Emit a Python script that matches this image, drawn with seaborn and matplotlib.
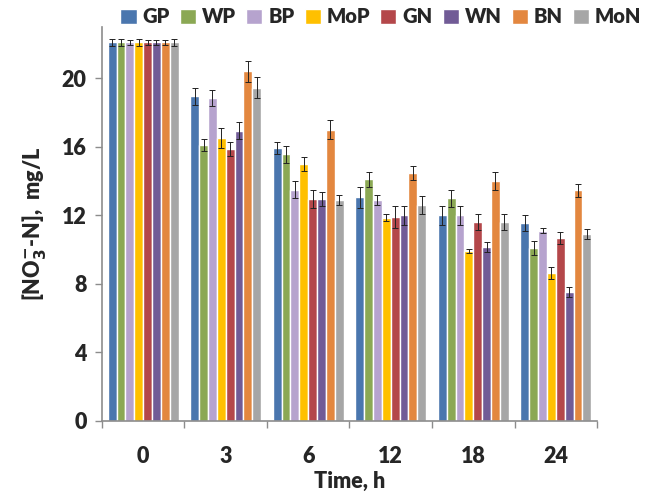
import matplotlib
matplotlib.use("Agg")
import matplotlib.pyplot as plt
import seaborn as sns
import numpy as np
import pandas as pd

times = ["0", "3", "6", "12", "18", "24"]
series = ["GP", "WP", "BP", "MoP", "GN", "WN", "BN", "MoN"]
colors = ["#4A76AE", "#8BA854", "#B6A3CE", "#FFC000", "#B4474A", "#715B96", "#E3873F", "#A6A6A6"]

GP  = [22.1, 18.95, 15.9, 13.05, 12.0, 11.55]
WP  = [22.1, 16.1, 15.55, 14.1, 13.0, 10.1]
BP  = [22.1, 18.85, 13.5, 12.9, 12.0, 11.1]
MoP = [22.1, 16.5, 15.0, 11.85, 9.9, 8.65]
GN  = [22.1, 15.85, 12.95, 11.9, 11.6, 10.7]
WN  = [22.1, 16.95, 12.95, 12.0, 10.15, 7.5]
BN  = [22.1, 20.4, 17.0, 14.45, 14.0, 13.45]
MoN = [22.1, 19.45, 12.9, 12.6, 11.6, 10.9]

GP_err  = [0.2, 0.5, 0.35, 0.6, 0.55, 0.45]
WP_err  = [0.2, 0.35, 0.5, 0.45, 0.5, 0.4]
BP_err  = [0.15, 0.45, 0.5, 0.3, 0.55, 0.15]
MoP_err = [0.2, 0.6, 0.4, 0.2, 0.12, 0.35]
GN_err  = [0.15, 0.4, 0.55, 0.65, 0.45, 0.35]
WN_err  = [0.15, 0.5, 0.4, 0.55, 0.3, 0.3]
BN_err  = [0.15, 0.6, 0.55, 0.4, 0.55, 0.4]
MoN_err = [0.2, 0.6, 0.3, 0.5, 0.45, 0.3]

vals = [GP, WP, BP, MoP, GN, WN, BN, MoN]
errs = [GP_err, WP_err, BP_err, MoP_err, GN_err, WN_err, BN_err, MoN_err]

rows = []
for s, v, e in zip(series, vals, errs):
    for t, vv, ee in zip(times, v, e):
        rows.append({"time": t, "series": s, "value": vv, "err": ee})
df = pd.DataFrame(rows)

sns.set_theme(style="white")
plt.rcParams["font.family"] = ["Lato", "DejaVu Sans"]
plt.rcParams["font.weight"] = "bold"
plt.rcParams["mathtext.default"] = "bf"

fig = plt.figure(figsize=(6.49, 4.98), dpi=100)
ax = fig.add_axes([0.157, 0.155, 0.763, 0.791])

sns.barplot(data=df, x="time", y="value", hue="series", order=times,
            hue_order=series, palette=colors, width=0.86, gap=0,
            errorbar=None, saturation=1, ax=ax, legend=True)

# error bars from bar patches
for cont, s in zip(ax.containers, series):
    sub = df[df.series == s].set_index("time").loc[times]
    xs = [p.get_x() + p.get_width() / 2 for p in cont.patches]
    ax.errorbar(xs, sub["value"].values, yerr=sub["err"].values, fmt="none",
                ecolor="#222222", elinewidth=0.7, capsize=2.2, capthick=0.7)

ax.set_ylim(0, 23)
ax.set_xlim(-0.5, len(times) - 0.5)
ax.set_yticks([0, 4, 8, 12, 16, 20])
ax.tick_params(axis="y", which="major", direction="out", length=5, width=1,
               color="#8c8c8c", labelsize=15.5, left=True, pad=6)
ax.tick_params(axis="x", which="major", length=0, labelsize=15.5, pad=18)
ax.set_xticks(np.arange(-0.5, len(times), 1), minor=True)
ax.tick_params(axis="x", which="minor", direction="out", length=5, width=1,
               color="#8c8c8c", bottom=True)
for lab in ax.get_xticklabels() + ax.get_yticklabels():
    lab.set_fontweight("heavy")

for sp in ["top", "right"]:
    ax.spines[sp].set_visible(False)
for sp in ["left", "bottom"]:
    ax.spines[sp].set_color("#8c8c8c")
    ax.spines[sp].set_linewidth(1.2)

ax.set_xlabel("Time, h", fontsize=15.5, fontweight="heavy", labelpad=3)
ax.set_ylabel(r"[NO$_\mathbf{3}^{\mathbf{-}}$-N],  mg/L", fontsize=15.5,
              fontweight="heavy", labelpad=10)

handles, labels = ax.get_legend_handles_labels()
ax.legend_.remove()
fig.legend(handles, labels, loc="center", bbox_to_anchor=(0.587, 0.966), ncol=8,
           frameon=False, handlelength=0.8, handleheight=0.8, handletextpad=0.3,
           columnspacing=0.5, prop={"size": 14.5, "weight": "heavy"})

fig.savefig("out.png", dpi=100)
